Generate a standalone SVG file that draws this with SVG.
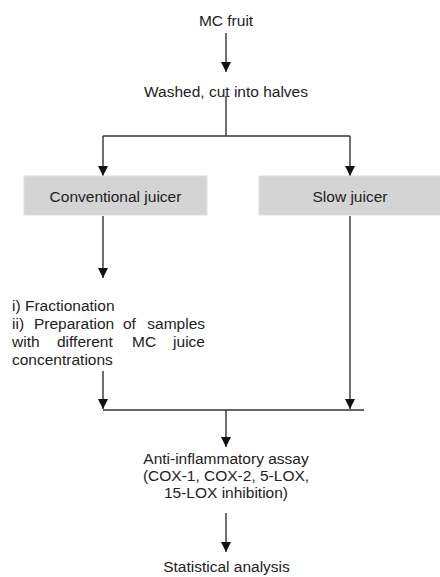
<svg xmlns="http://www.w3.org/2000/svg" width="440" height="577" viewBox="0 0 440 577">
<style>
text{font-family:"Liberation Sans",Arial,sans-serif;font-size:15.5px;fill:#222}
.c{text-anchor:middle}
.ln{stroke:#333;stroke-width:1.4;fill:none}
.box{fill:#d4d4d4;stroke:#dedede;stroke-width:1}
</style>
<defs>
<marker id="ah" markerUnits="userSpaceOnUse" markerWidth="10" markerHeight="10" refX="10" refY="5" orient="auto">
<path d="M0,0 L10,5 L0,10 z" fill="#111"/>
</marker>
</defs>
<rect width="440" height="577" fill="#fff"/>
<g id="connectors">
<line class="ln" x1="226" y1="33" x2="226" y2="72" marker-end="url(#ah)"/>
<line class="ln" x1="226" y1="96" x2="226" y2="136"/>
<line class="ln" x1="103" y1="136" x2="350" y2="136"/>
<line class="ln" x1="103" y1="136" x2="103" y2="176" marker-end="url(#ah)"/>
<line class="ln" x1="350" y1="136" x2="350" y2="176" marker-end="url(#ah)"/>
<line class="ln" x1="103" y1="216" x2="103" y2="278" marker-end="url(#ah)"/>
<line class="ln" x1="350" y1="216" x2="350" y2="409" marker-end="url(#ah)"/>
<line class="ln" x1="103" y1="371" x2="103" y2="409" marker-end="url(#ah)"/>
<line class="ln" x1="103" y1="410" x2="364" y2="410"/>
<line class="ln" x1="226" y1="410" x2="226" y2="447" marker-end="url(#ah)"/>
<line class="ln" x1="226" y1="513" x2="226" y2="552" marker-end="url(#ah)"/>
</g>
<g id="mc-fruit"><text class="c" x="226" y="26">MC fruit</text></g>
<g id="washed"><text class="c" x="226" y="97">Washed, cut into halves</text></g>
<g id="conventional-juicer">
<rect class="box" x="24" y="176" width="183" height="39"/>
<text class="c" x="115.5" y="202">Conventional juicer</text>
</g>
<g id="slow-juicer">
<rect class="box" x="259" y="176" width="185" height="39"/>
<text class="c" x="350" y="202">Slow juicer</text>
</g>
<g id="fractionation">
<text x="12" y="311">i) Fractionation</text>
<text y="329"><tspan x="12">ii)</tspan><tspan x="34">Preparation</tspan><tspan x="123">of</tspan><tspan x="205" text-anchor="end">samples</tspan></text>
<text y="347"><tspan x="12">with</tspan><tspan x="57">different</tspan><tspan x="132">MC</tspan><tspan x="205" text-anchor="end">juice</tspan></text>
<text x="12" y="365">concentrations</text>
</g>
<g id="assay">
<text class="c" x="226" y="464">Anti-inflammatory assay</text>
<text class="c" x="226" y="481">(COX-1, COX-2, 5-LOX,</text>
<text class="c" x="226" y="498">15-LOX inhibition)</text>
</g>
<g id="statistical"><text class="c" x="226.5" y="572">Statistical analysis</text></g>
</svg>
